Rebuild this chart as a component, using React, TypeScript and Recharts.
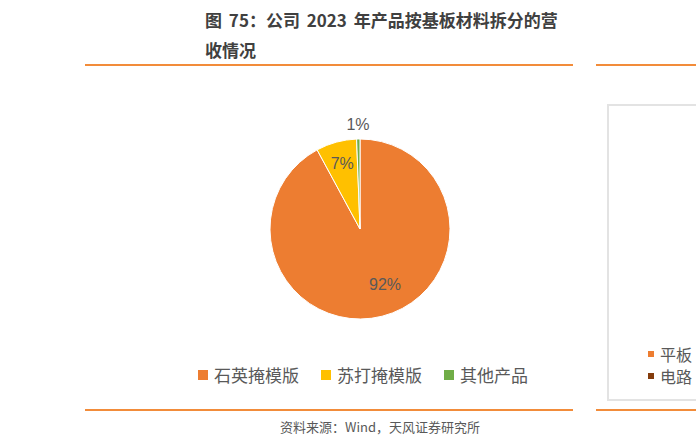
import React from "react";
import { PieChart, Pie, Cell, Legend } from "recharts";

// 公司 2023 年产品按基板材料拆分的营收占比（%）
const categories = ["石英掩模版", "苏打掩模版", "其他产品"];
const shares = [92.1, 7.3, 0.6];
const colors = ["#ED7D31", "#FFC000", "#70AD47"];

// 右侧被截断的图例
const sideLegend = ["平板", "电路"];
const sideColors = ["#ED7D31", "#843C0C"];

const data = categories.map((name, i) => ({ name, value: shares[i] }));

const RAD = Math.PI / 180;
const cjk = '"Noto Sans CJK SC", "Noto Sans", sans-serif';

// eslint-disable-next-line @typescript-eslint/no-explicit-any
const renderLabel = (props: any) => {
    const { cx, cy, midAngle, outerRadius, percent } = props;
    // 大块放内侧偏外，小块放外侧
    let k = 0.75;
    if (percent > 0.5) k = 0.68;
    if (percent < 0.02) k = 1.16;
    const r = outerRadius * k;
    let x = cx + r * Math.cos(-midAngle * RAD);
    const y = cy + r * Math.sin(-midAngle * RAD) - (percent > 0.5 ? 4 : 0);
    if (percent > 0.5) x += 10;
    return (
        <text
            x={x}
            y={y}
            fill="#595959"
            fontSize={16}
            fontFamily='"Liberation Sans", sans-serif'
            textAnchor="middle"
            dominantBaseline="central"
        >
            {Math.round(percent * 100) + "%"}
        </text>
    );
};

const renderLegend = () => (
    <div style={{ display: "flex", justifyContent: "center", gap: 22, fontFamily: cjk, fontSize: 17, color: "#595959" }}>
        {categories.map((c, i) => (
            <div key={c} style={{ display: "flex", alignItems: "center" }}>
                <span style={{ width: 10, height: 10, background: colors[i], marginRight: 6, display: "inline-block" }} />
                <span>{c}</span>
            </div>
        ))}
    </div>
);

const line = (left: number, width: number, top: number) => (
    <div style={{ position: "absolute", left, top, width, height: 2, background: "#F28C3A" }} />
);

export default function App() {
    return (
        <div style={{ position: "absolute", left: 0, top: 0, width: 696, height: 444, overflow: "hidden", background: "#fff" }}>
            <div
                style={{
                    position: "absolute",
                    left: 205,
                    top: 5,
                    fontFamily: cjk,
                    fontWeight: 700,
                    fontSize: 17,
                    lineHeight: "30px",
                    wordSpacing: 3,
                    color: "#404040",
                    whiteSpace: "nowrap",
                }}
            >
                <div>图 75：公司 2023 年产品按基板材料拆分的营</div>
                <div>收情况</div>
            </div>

            {line(85, 488, 64)}
            {line(596, 100, 64)}
            {line(85, 488, 409)}
            {line(596, 100, 409)}

            <div style={{ position: "absolute", left: 0, top: 0 }}>
                <PieChart width={696} height={444} margin={{ top: 0, right: 0, bottom: 0, left: 0 }}>
                    <Pie
                        data={data}
                        dataKey="value"
                        nameKey="name"
                        cx={360}
                        cy={229}
                        outerRadius={90}
                        startAngle={90}
                        endAngle={-270}
                        stroke="#fff"
                        strokeWidth={1}
                        label={renderLabel}
                        labelLine={false}
                        isAnimationActive={false}
                    >
                        {data.map((d, i) => (
                            <Cell key={d.name} fill={colors[i]} />
                        ))}
                    </Pie>
                    <Legend
                        verticalAlign="bottom"
                        content={renderLegend}
                        wrapperStyle={{ top: 362, left: 0, width: 726 }}
                    />
                </PieChart>
            </div>

            <div
                style={{
                    position: "absolute",
                    left: 607,
                    top: 104,
                    width: 120,
                    height: 293,
                    border: "2px solid #E3E3E3",
                }}
            />
            <div style={{ position: "absolute", left: 648, top: 343, fontFamily: cjk, fontSize: 16, color: "#595959", lineHeight: "22px" }}>
                {sideLegend.map((s, i) => (
                    <div key={s} style={{ display: "flex", alignItems: "center", whiteSpace: "nowrap" }}>
                        <span style={{ width: 6, height: 6, background: sideColors[i], marginRight: 6, display: "inline-block" }} />
                        <span>{s}</span>
                    </div>
                ))}
            </div>

            <div
                style={{
                    position: "absolute",
                    left: 0,
                    width: 760,
                    top: 417,
                    textAlign: "center",
                    fontFamily: cjk,
                    fontSize: 13,
                    color: "#595959",
                }}
            >
                资料来源：Wind，天风证券研究所
            </div>
        </div>
    );
}
